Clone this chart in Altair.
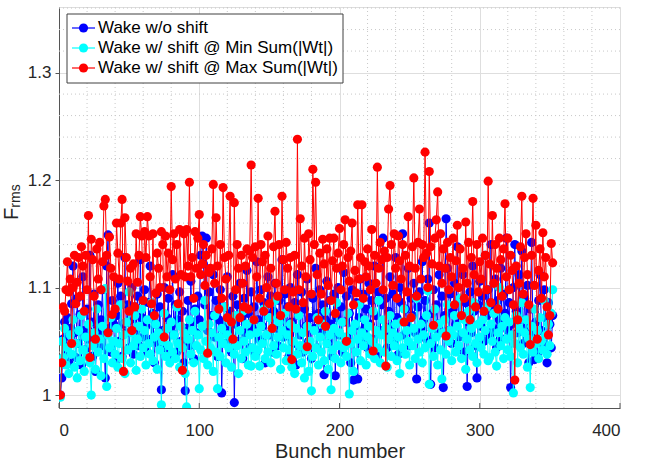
import altair as alt
import pandas as pd

# ---- data ----
wake_no_shift = [
    1.000, 1.016, 1.052, 1.068, 1.040, 1.072, 1.030, 1.062, 1.085, 1.120, 1.058, 1.035, 1.090, 1.048, 1.075, 1.028, 1.110, 1.060, 1.042, 1.080,
    1.052, 1.130, 1.068, 1.036, 1.094, 1.022, 1.060, 1.084, 1.045, 1.070, 1.098, 1.056, 1.016, 1.120, 1.149, 1.062, 1.040, 1.088, 1.066, 1.030,
    1.074, 1.104, 1.050, 1.092, 1.036, 1.066, 1.128, 1.058, 1.084, 1.044, 1.070, 1.100, 1.038, 1.082, 1.060, 1.092, 1.046, 1.126, 1.072, 1.054,
    1.098, 1.064, 1.040, 1.086, 1.120, 1.052, 1.076, 1.030, 1.066, 1.094, 1.048, 1.082, 1.005, 1.060, 1.100, 1.044, 1.072, 1.090, 1.036, 1.064,
    1.112, 1.056, 1.084, 1.040, 1.070, 1.096, 1.050, 1.078, 1.030, 1.004, 1.062, 1.088, 1.046, 1.106, 1.068, 1.034, 1.080, 1.058, 1.092, 1.070,
    1.130, 1.148, 1.122, 1.084, 1.146, 1.060, 1.096, 1.042, 1.074, 1.112, 1.054, 1.088, 1.036, 1.070, 1.098, 1.002, 1.064, 1.082, 1.048, 1.110,
    1.060, 1.078, 1.040, 1.092, 0.993, 1.066, 1.084, 1.050, 1.104, 1.072, 1.034, 1.090, 1.058, 1.116, 1.076, 1.044, 1.096, 1.062, 1.082, 1.038,
    1.124, 1.070, 1.052, 1.098, 1.064, 1.086, 1.030, 1.074, 1.110, 1.056, 1.092, 1.040, 1.078, 1.104, 1.062, 1.046, 1.088, 1.072, 1.126, 1.054,
    1.094, 1.060, 1.082, 1.036, 1.100, 1.068, 1.048, 1.086, 1.028, 1.112, 1.074, 1.056, 1.096, 1.040, 1.080, 1.064, 1.108, 1.050, 1.072, 1.034,
    1.090, 1.062, 1.118, 1.044, 1.076, 1.098, 1.058, 1.084, 1.019, 1.070, 1.106, 1.048, 1.088, 1.066, 1.036, 1.094, 1.018, 1.072, 1.100, 1.056,
    1.082, 1.040, 1.114, 1.068, 1.092, 1.054, 1.076, 1.030, 1.098, 1.014, 1.064, 1.086, 1.015, 1.072, 1.108, 1.050, 1.094, 1.062, 1.080, 1.044,
    1.104, 1.066, 1.088, 1.052, 1.120, 1.074, 1.036, 1.096, 1.060, 1.084, 1.146, 1.058, 1.090, 1.044, 1.078, 1.110, 1.064, 1.094, 1.050, 1.128,
    1.072, 1.038, 1.100, 1.086, 1.150, 1.056, 1.080, 1.066, 1.118, 1.046, 1.090, 1.074, 1.104, 1.058, 1.015, 1.082, 1.096, 1.062, 1.124, 1.070,
    1.088, 1.052, 1.108, 1.160, 1.010, 1.076, 1.098, 1.044, 1.084, 1.066, 1.112, 1.058, 1.092, 1.007, 1.074, 1.164, 1.118, 1.060, 1.094, 1.048,
    1.080, 1.104, 1.066, 1.138, 1.054, 1.090, 1.072, 1.112, 1.040, 1.086, 1.008, 1.068, 1.096, 1.058, 1.120, 1.078, 1.046, 1.016, 1.084, 1.106,
    1.064, 1.092, 1.050, 1.130, 1.074, 1.098, 1.056, 1.140, 1.082, 1.062, 1.108, 1.044, 1.088, 1.070, 1.118, 1.052, 1.094, 1.076, 1.146, 1.060,
    1.086, 1.007, 1.066, 1.100, 1.140, 1.078, 1.058, 1.112, 1.070, 1.134, 1.048, 1.090, 1.062, 1.102, 1.030, 1.080, 1.142, 1.056, 1.033, 1.068,
    1.038, 1.088, 1.112, 1.060, 1.048, 1.098, 1.072, 1.030, 1.086, 1.066, 1.044, 1.074,
]

wake_shift_min = [
    0.998, 1.050, 1.035, 1.062, 1.028, 1.044, 1.020, 1.056, 1.038, 1.070, 1.026, 1.048, 1.016, 1.060, 1.032, 1.074, 1.042, 1.022, 1.054, 1.036,
    1.066, 1.030, 1.000, 1.046, 1.058, 1.024, 1.080, 1.040, 1.052, 1.018, 1.064, 1.034, 1.099, 1.008, 1.056, 1.044, 1.072, 1.030, 1.050, 1.038,
    1.062, 1.026, 1.048, 1.084, 1.034, 1.056, 1.020, 1.068, 1.042, 1.096, 1.030, 1.058, 1.046, 1.074, 1.023, 1.052, 1.064, 1.036, 1.080, 1.044,
    1.060, 1.028, 1.070, 1.048, 1.038, 1.086, 1.032, 1.054, 1.066, 1.024, 1.058, 1.042, 0.991, 1.050, 1.076, 1.036, 1.062, 1.046, 1.030, 1.068,
    1.040, 1.056, 1.034, 1.082, 1.048, 1.026, 1.064, 1.044, 1.058, 1.020, 0.989, 1.052, 1.070, 1.038, 1.060, 1.030, 1.078, 1.046, 1.056, 1.006,
    1.042, 1.064, 1.034, 1.088, 1.050, 1.028, 1.066, 1.044, 1.058, 1.022, 1.074, 1.040, 1.006, 1.054, 1.036, 1.062, 1.048, 1.082, 1.030, 1.056,
    1.044, 1.068, 1.026, 1.052, 1.038, 1.074, 1.046, 1.020, 1.060, 1.034, 1.078, 1.050, 1.040, 1.066, 1.028, 1.056, 1.027, 1.044, 1.070, 1.036,
    1.058, 1.042, 1.027, 1.064, 1.048, 1.080, 1.034, 1.056, 1.040, 1.072, 1.030, 1.062, 1.046, 1.088, 1.038, 1.054, 1.068, 1.024, 1.060, 1.044,
    1.076, 1.032, 1.056, 1.042, 1.066, 1.026, 1.050, 1.020, 1.062, 1.038, 1.074, 1.046, 1.030, 1.058, 1.016, 1.042, 1.064, 1.022, 1.050, 1.004,
    1.036, 1.060, 1.044, 1.072, 1.028, 1.054, 1.040, 1.066, 1.032, 1.078, 1.048, 1.024, 1.056, 1.005, 1.042, 1.062, 1.034, 1.086, 1.046, 1.058,
    1.030, 1.068, 1.044, 1.054, 1.036, 1.076, 1.001, 1.048, 1.060, 1.022, 1.066, 1.040, 1.052, 1.084, 1.032, 1.058, 1.046, 1.070, 1.028, 1.054,
    1.064, 1.038, 1.050, 1.078, 1.034, 1.060, 1.044, 1.088, 1.030, 1.056, 1.070, 1.040, 1.062, 1.026, 1.052, 1.074, 1.036, 1.058, 1.046, 1.066,
    1.032, 1.054, 1.020, 1.068, 1.044, 1.080, 1.038, 1.060, 1.050, 1.028, 1.072, 1.046, 1.062, 1.034, 1.090, 1.052, 1.040, 1.066, 1.030, 1.056,
    1.044, 1.074, 1.097, 1.010, 1.048, 1.062, 1.036, 1.080, 1.054, 1.028, 1.066, 1.042, 1.015, 1.058, 1.070, 1.038, 1.084, 1.050, 1.060, 1.032,
    1.056, 1.074, 1.040, 1.064, 1.046, 1.090, 1.034, 1.058, 1.070, 1.024, 1.052, 1.078, 1.042, 1.062, 1.036, 1.086, 1.048, 1.030, 1.066, 1.054,
    1.044, 1.070, 1.038, 1.060, 1.082, 1.032, 1.035, 1.066, 1.050, 1.076, 1.040, 1.027, 1.058, 1.100, 1.046, 1.064, 1.034, 1.072, 1.052, 1.042,
    1.068, 1.036, 1.056, 1.002, 1.048, 1.074, 1.030, 1.062, 1.044, 1.086, 1.038, 1.058, 1.070, 1.026, 1.052, 1.007, 1.064, 1.040, 1.080, 1.048,
    1.060, 1.034, 1.072, 1.050, 1.042, 1.088, 1.056, 1.038, 1.066, 1.046, 1.076, 1.098,
]

wake_shift_max = [
    1.000, 1.030, 1.082, 1.078, 1.098, 1.124, 1.096, 1.108, 1.048, 1.100, 1.130, 1.085, 1.105, 1.128, 1.092, 1.138, 1.120, 1.078, 1.130, 1.098,
    1.167, 1.035, 1.145, 1.126, 1.092, 1.052, 1.136, 1.108, 1.142, 1.098, 1.124, 1.176, 1.182, 1.130, 1.058, 1.147, 1.118, 1.075, 1.110, 1.080,
    1.160, 1.132, 1.108, 1.160, 1.182, 1.022, 1.165, 1.128, 1.106, 1.078, 1.118, 1.060, 1.122, 1.082, 1.150, 1.105, 1.130, 1.166, 1.148, 1.088,
    1.152, 1.128, 1.166, 1.148, 1.110, 1.085, 1.150, 1.074, 1.095, 1.132, 1.118, 1.100, 1.152, 1.140, 1.054, 1.148, 1.110, 1.132, 1.098, 1.194,
    1.126, 1.150, 1.108, 1.140, 1.085, 1.154, 1.112, 1.023, 1.150, 1.110, 1.154, 1.120, 1.198, 1.110, 1.128, 1.090, 1.152, 1.118, 1.146, 1.168,
    1.112, 1.122, 1.140, 1.102, 1.130, 1.039, 1.114, 1.118, 1.136, 1.196, 1.104, 1.165, 1.120, 1.080, 1.140, 1.090, 1.193, 1.128, 1.108, 1.072,
    1.130, 1.185, 1.068, 1.052, 1.179, 1.098, 1.140, 1.118, 1.072, 1.130, 1.104, 1.082, 1.120, 1.136, 1.080, 1.134, 1.214, 1.128, 1.070, 1.138,
    1.110, 1.183, 1.090, 1.140, 1.124, 1.078, 1.130, 1.100, 1.148, 1.085, 1.118, 1.062, 1.138, 1.171, 1.104, 1.092, 1.140, 1.074, 1.185, 1.126,
    1.098, 1.142, 1.118, 1.082, 1.128, 1.033, 1.096, 1.130, 1.080, 1.238, 1.098, 1.164, 1.120, 1.086, 1.146, 1.110, 1.045, 1.150, 1.126, 1.094,
    1.210, 1.140, 1.198, 1.112, 1.070, 1.132, 1.094, 1.145, 1.122, 1.064, 1.136, 1.102, 1.146, 1.088, 1.125, 1.146, 1.076, 1.118, 1.132, 1.155,
    1.098, 1.120, 1.140, 1.163, 1.050, 1.128, 1.106, 1.134, 1.160, 1.084, 1.116, 1.095, 1.177, 1.108, 1.128, 1.177, 1.090, 1.124, 1.110, 1.136,
    1.120, 1.098, 1.154, 1.041, 1.130, 1.104, 1.212, 1.118, 1.142, 1.126, 1.098, 1.134, 1.027, 1.128, 1.173, 1.195, 1.140, 1.102, 1.150, 1.118,
    1.090, 1.148, 1.125, 1.108, 1.140, 1.068, 1.130, 1.096, 1.166, 1.120, 1.072, 1.138, 1.202, 1.118, 1.092, 1.142, 1.173, 1.108, 1.140, 1.128,
    1.226, 1.132, 1.100, 1.208, 1.138, 1.122, 1.065, 1.146, 1.163, 1.189, 1.120, 1.150, 1.104, 1.136, 1.118, 1.055, 1.142, 1.098, 1.128, 1.110,
    1.146, 1.084, 1.125, 1.158, 1.100, 1.136, 1.074, 1.118, 1.090, 1.161, 1.104, 1.142, 1.070, 1.128, 1.180, 1.112, 1.082, 1.140, 1.096, 1.124,
    1.108, 1.146, 1.078, 1.130, 1.098, 1.199, 1.122, 1.086, 1.167, 1.104, 1.140, 1.118, 1.080, 1.146, 1.126, 1.092, 1.136, 1.178, 1.110, 1.146,
    1.098, 1.130, 1.116, 1.084, 1.014, 1.120, 1.070, 1.104, 1.138, 1.185, 1.094, 1.128, 1.150, 1.112, 1.084, 1.047, 1.130, 1.183, 1.102, 1.158,
    1.052, 1.116, 1.136, 1.090, 1.151, 1.110, 1.128, 1.082, 1.056, 1.074, 1.141, 1.123,
]

series_names = [
    "Wake w/o shift",
    "Wake w/ shift @ Min Sum(|Wt|)",
    "Wake w/ shift @ Max Sum(|Wt|)",
]
series_colors = ["#0000ff", "#00ffff", "#ff0000"]
series_values = [wake_no_shift, wake_shift_min, wake_shift_max]

x_ticks = [0, 100, 200, 300, 400]
y_ticks = [1.0, 1.1, 1.2, 1.3]
x_minor = [v for v in range(20, 400, 20) if v % 100 != 0]
y_minor = [round(1.0 + 0.02 * k, 2) for k in range(1, 19) if k % 5 != 0]

# ---- layout ----
W, H = 561, 401
FONT = "Liberation Sans"
TXT = "#262626"
AX = "#555555"
MS = 84
xscale = alt.Scale(domain=[0, 400], nice=False)
yscale = alt.Scale(domain=[0.988, 1.361], nice=False, zero=False)

xaxis = alt.Axis(
    values=x_ticks, title="Bunch number", grid=True, gridColor="#dedede", gridWidth=1,
    ticks=False, labelPadding=14, labelFontSize=17, titleFontSize=20, titleFontWeight="normal",
    titlePadding=3, labelColor=TXT, titleColor=TXT, domainColor=AX, labelFont=FONT, titleFont=FONT,
    format="d")
yaxis = alt.Axis(
    values=y_ticks, title=None, grid=True, gridColor="#dedede", gridWidth=1,
    tickSize=4, tickColor=AX, labelPadding=4, labelFontSize=17, labelColor=TXT,
    domainColor=AX, labelFont=FONT,
    labelExpr="datum.value == 1 ? '1' : format(datum.value, '.1f')")

minor_x_df = pd.DataFrame({"v": x_minor})
minor_y_df = pd.DataFrame({"v": y_minor})

grid_x = alt.Chart(minor_x_df).mark_rule(color="#c8c8c8", strokeDash=[1, 3], strokeWidth=1).encode(
    x=alt.X("v:Q", scale=xscale, axis=xaxis), y=alt.value(0), y2=alt.value(H)
)
grid_y = alt.Chart(minor_y_df).mark_rule(color="#c8c8c8", strokeDash=[1, 3], strokeWidth=1).encode(
    y=alt.Y("v:Q", scale=yscale, axis=yaxis), x=alt.value(0), x2=alt.value(W)
)

# inward x ticks
xtick_df = pd.DataFrame({"v": x_ticks})
xticks = alt.Chart(xtick_df).mark_rule(color=AX).encode(
    x=alt.X("v:Q", scale=xscale, axis=xaxis), y=alt.value(H - 5), y2=alt.value(H)
)

layers = [grid_x, grid_y, xticks]
for name, col, vals in zip(series_names, series_colors, series_values):
    df = pd.DataFrame({"bunch": list(range(1, len(vals) + 1)), "F": vals})
    base = alt.Chart(df).encode(
        x=alt.X("bunch:Q", scale=xscale, axis=xaxis),
        y=alt.Y("F:Q", scale=yscale, axis=yaxis),
    )
    layers.append(base.mark_line(color=col, strokeWidth=1, clip=True))
    layers.append(base.mark_circle(color=col, size=MS, opacity=1, clip=True))

# ---- custom legend ----
one = alt.Data(values=[{}])
leg_df = pd.DataFrame({"label": series_names, "col": series_colors, "py": [21, 41, 61]})
leg_box = alt.Chart(one).mark_rect(fill="white", stroke="#404040", strokeWidth=1).encode(
    x=alt.value(8), x2=alt.value(284), y=alt.value(7), y2=alt.value(76)
)
leg_line = alt.Chart(leg_df).mark_rule(strokeWidth=1.2).encode(
    x=alt.value(13), x2=alt.value(36), y=alt.Y("py:Q", scale=None),
    color=alt.Color("col:N", scale=None),
)
leg_pt = alt.Chart(leg_df).mark_circle(size=MS, opacity=1).encode(
    x=alt.value(24.5), y=alt.Y("py:Q", scale=None), color=alt.Color("col:N", scale=None),
)
leg_txt = alt.Chart(leg_df).mark_text(align="left", baseline="middle", fontSize=17, font=FONT, color="#000000").encode(
    x=alt.value(39), y=alt.Y("py:Q", scale=None), text="label:N"
)

# ---- y title F_rms ----
ytitle_F = alt.Chart(one).mark_text(text="F", angle=270, fontSize=20, font=FONT, color=TXT,
                                    align="center", baseline="middle").encode(
    x=alt.value(-47), y=alt.value(207)
)
ytitle_rms = alt.Chart(one).mark_text(text="rms", angle=270, fontSize=14, font=FONT, color=TXT,
                                      align="center", baseline="middle").encode(
    x=alt.value(-43), y=alt.value(189)
)

layers += [leg_box, leg_line, leg_pt, leg_txt, ytitle_F, ytitle_rms]

chart = alt.layer(*layers).properties(
    width=W, height=H,
    autosize=alt.AutoSizeParams(type="none"),
    padding={"left": 59, "top": 7, "right": 34, "bottom": 61},
).configure_view(stroke=None).configure(background="white")

chart.save("out.html", embed_options={"renderer": "svg", "actions": False})
